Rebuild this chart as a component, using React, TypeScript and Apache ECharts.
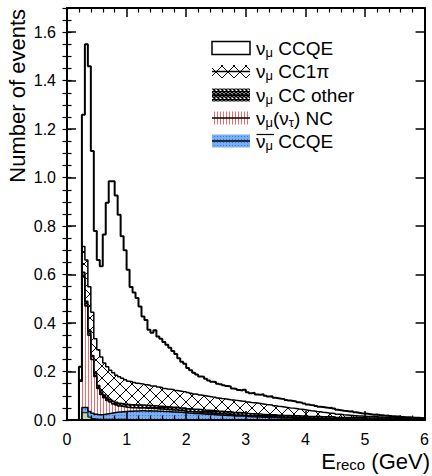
import React, { useEffect, useRef } from "react";
import * as echarts from "echarts";

const FONT = '"Liberation Sans", Arial, Helvetica, sans-serif';

const X_MIN = 0;
const X_MAX = 6;
const BIN_WIDTH = 0.05;
const Y_MAX = 1.7;

// Stacked components, one value per 0.05 GeV bin (0 - 6 GeV), bottom to top
const nuOther = [
  0, 0, 0, 0, 0, 0.03, 0.03, 0.012, 0.006, 0.004,
  0.003, 0.003, 0.003, 0.003, 0.003, 0.003, 0.003, 0.003, 0.003, 0.003,
  0.002, 0.002, 0.002, 0.002, 0.002, 0.002, 0.002, 0.002, 0.002, 0.002,
  0.002, 0.002, 0.002, 0.002, 0.002, 0.002, 0.002, 0.002, 0.002, 0.002,
  0.001, 0.001, 0.001, 0.001, 0.001, 0.001, 0.001, 0.001, 0.001, 0.001,
  0.001, 0.001, 0.001, 0.001, 0.001, 0.001, 0.001, 0.001, 0.001, 0.001,
  0, 0, 0, 0, 0, 0, 0, 0, 0, 0,
  0, 0, 0, 0, 0, 0, 0, 0, 0, 0,
  0, 0, 0, 0, 0, 0, 0, 0, 0, 0,
  0, 0, 0, 0, 0, 0, 0, 0, 0, 0,
  0, 0, 0, 0, 0, 0, 0, 0, 0, 0,
  0, 0, 0, 0, 0, 0, 0, 0, 0, 0,
];

const numubarCCQE = [
  0, 0, 0, 0, 0, 0.022, 0.022, 0.023, 0.022, 0.020,
  0.019, 0.019, 0.021, 0.023, 0.025, 0.027, 0.029, 0.030, 0.031, 0.032,
  0.034, 0.034, 0.035, 0.035, 0.036, 0.036, 0.035, 0.036, 0.035, 0.035,
  0.034, 0.034, 0.033, 0.033, 0.032, 0.031, 0.031, 0.030, 0.029, 0.029,
  0.028, 0.027, 0.026, 0.026, 0.025, 0.024, 0.023, 0.023, 0.022, 0.021,
  0.020, 0.020, 0.019, 0.018, 0.018, 0.017, 0.016, 0.016, 0.015, 0.015,
  0.014, 0.013, 0.013, 0.012, 0.012, 0.011, 0.011, 0.010, 0.010, 0.010,
  0.009, 0.009, 0.008, 0.008, 0.008, 0.007, 0.007, 0.007, 0.006, 0.006,
  0.006, 0.005, 0.005, 0.005, 0.005, 0.004, 0.004, 0.004, 0.004, 0.004,
  0.003, 0.003, 0.003, 0.003, 0.003, 0.003, 0.003, 0.003, 0.003, 0.003,
  0.002, 0.002, 0.002, 0.002, 0.002, 0.002, 0.002, 0.002, 0.002, 0.002,
  0.001, 0.001, 0.001, 0.001, 0.001, 0.001, 0.001, 0.001, 0.001, 0.001,
];

const numuNC = [
  0, 0, 0, 0, 0.16, 0.538, 0.418, 0.315, 0.222, 0.156,
  0.108, 0.083, 0.068, 0.054, 0.046, 0.036, 0.030, 0.025, 0.022, 0.019,
  0.016, 0.015, 0.014, 0.013, 0.012, 0.012, 0.011, 0.011, 0.010, 0.010,
  0.009, 0.009, 0.009, 0.008, 0.008, 0.008, 0.008, 0.007, 0.007, 0.007,
  0.006, 0.006, 0.006, 0.006, 0.006, 0.005, 0.005, 0.005, 0.005, 0.005,
  0.005, 0.005, 0.005, 0.005, 0.005, 0.004, 0.004, 0.004, 0.004, 0.004,
  0.004, 0.004, 0.004, 0.004, 0.004, 0.003, 0.003, 0.003, 0.003, 0.003,
  0.003, 0.003, 0.003, 0.003, 0.003, 0.003, 0.003, 0.003, 0.003, 0.003,
  0.002, 0.002, 0.002, 0.002, 0.002, 0.002, 0.002, 0.002, 0.002, 0.002,
  0.001, 0.001, 0.001, 0.001, 0.001, 0.001, 0.001, 0.001, 0.001, 0.001,
  0.001, 0.001, 0.001, 0.001, 0.001, 0.001, 0.001, 0.001, 0.001, 0.001,
  0, 0, 0, 0, 0, 0, 0, 0, 0, 0,
];

const numuCCother = [
  0, 0, 0, 0, 0, 0.020, 0.020, 0.018, 0.016, 0.014,
  0.012, 0.011, 0.011, 0.011, 0.011, 0.011, 0.011, 0.011, 0.011, 0.011,
  0.012, 0.012, 0.012, 0.012, 0.012, 0.012, 0.012, 0.012, 0.012, 0.012,
  0.012, 0.012, 0.012, 0.012, 0.012, 0.012, 0.012, 0.012, 0.012, 0.012,
  0.011, 0.011, 0.011, 0.011, 0.011, 0.011, 0.011, 0.011, 0.011, 0.011,
  0.010, 0.010, 0.010, 0.010, 0.010, 0.010, 0.010, 0.010, 0.010, 0.010,
  0.009, 0.009, 0.009, 0.009, 0.009, 0.009, 0.009, 0.009, 0.009, 0.009,
  0.008, 0.008, 0.008, 0.008, 0.008, 0.008, 0.008, 0.008, 0.008, 0.008,
  0.007, 0.007, 0.007, 0.007, 0.007, 0.007, 0.007, 0.007, 0.007, 0.007,
  0.006, 0.006, 0.006, 0.006, 0.006, 0.006, 0.006, 0.006, 0.006, 0.006,
  0.005, 0.005, 0.005, 0.005, 0.005, 0.005, 0.005, 0.005, 0.005, 0.005,
  0.004, 0.004, 0.004, 0.004, 0.004, 0.004, 0.004, 0.004, 0.004, 0.004,
];

const numuCC1pi = [
  0, 0, 0, 0, 0.005, 0.106, 0.170, 0.182, 0.179, 0.141,
  0.148, 0.144, 0.132, 0.129, 0.120, 0.118, 0.112, 0.109, 0.105, 0.101,
  0.096, 0.095, 0.092, 0.090, 0.088, 0.086, 0.085, 0.082, 0.081, 0.081,
  0.079, 0.077, 0.074, 0.073, 0.073, 0.072, 0.069, 0.069, 0.068, 0.067,
  0.067, 0.065, 0.063, 0.062, 0.060, 0.060, 0.059, 0.057, 0.056, 0.056,
  0.055, 0.053, 0.053, 0.052, 0.050, 0.051, 0.050, 0.048, 0.047, 0.047,
  0.047, 0.046, 0.045, 0.045, 0.043, 0.043, 0.041, 0.041, 0.040, 0.037,
  0.037, 0.036, 0.035, 0.033, 0.031, 0.031, 0.029, 0.027, 0.027, 0.025,
  0.025, 0.024, 0.023, 0.021, 0.020, 0.019, 0.018, 0.016, 0.015, 0.014,
  0.014, 0.014, 0.012, 0.011, 0.010, 0.009, 0.008, 0.007, 0.006, 0.005,
  0.006, 0.006, 0.005, 0.005, 0.004, 0.004, 0.003, 0.003, 0.002, 0.002,
  0.004, 0.004, 0.003, 0.003, 0.003, 0.002, 0.002, 0.001, 0.001, 0.001,
];

const numuCCQE = [
  0, 0, 0, 0, 0.055, 0.544, 0.890, 0.910, 0.665, 0.445,
  0.370, 0.374, 0.530, 0.676, 0.780, 0.790, 0.741, 0.669, 0.586, 0.534,
  0.460, 0.391, 0.371, 0.351, 0.318, 0.279, 0.268, 0.229, 0.220, 0.230,
  0.209, 0.201, 0.192, 0.182, 0.171, 0.160, 0.150, 0.135, 0.122, 0.115,
  0.102, 0.095, 0.088, 0.082, 0.077, 0.077, 0.071, 0.066, 0.063, 0.063,
  0.059, 0.058, 0.055, 0.054, 0.054, 0.047, 0.047, 0.045, 0.045, 0.048,
  0.041, 0.038, 0.041, 0.035, 0.036, 0.040, 0.036, 0.034, 0.036, 0.033,
  0.033, 0.032, 0.033, 0.031, 0.030, 0.029, 0.029, 0.028, 0.027, 0.026,
  0.024, 0.024, 0.024, 0.023, 0.021, 0.022, 0.021, 0.021, 0.023, 0.020,
  0.018, 0.016, 0.016, 0.016, 0.015, 0.017, 0.014, 0.013, 0.012, 0.012,
  0.012, 0.010, 0.009, 0.010, 0.009, 0.008, 0.007, 0.008, 0.006, 0.005,
  0.005, 0.006, 0.004, 0.003, 0.003, 0.003, 0.002, 0.003, 0.002, 0.001,
];

// Legend labels (rich text: m = main, s = subscript)
const legendLabels = [
  "{m|ν}{s|μ}{m| CCQE}",
  "{m|ν}{s|μ}{m| CC1π}",
  "{m|ν}{s|μ}{m| CC other}",
  "{m|ν}{s|μ}{m|(ν}{s|τ}{m|) NC}",
  "{m|ν}{s|μ}{m| CCQE}",
];
const yAxisTitle = "Number of events";
const xAxisTitle = "{m|E}{s|reco}{m| (GeV)}";

function makePattern(
  w: number,
  h: number,
  draw: (ctx: CanvasRenderingContext2D) => void
) {
  const c = document.createElement("canvas");
  c.width = w;
  c.height = h;
  const ctx = c.getContext("2d") as CanvasRenderingContext2D;
  draw(ctx);
  return { image: c, repeat: "repeat", imageWidth: w, imageHeight: h } as any;
}

export default function App() {
  const ref = useRef<HTMLDivElement>(null);

  useEffect(() => {
    if (!ref.current) return;
    const chart = echarts.init(ref.current, null, { renderer: "svg" });

    const whiteFill = "#ffffff";
    const crossFill = makePattern(12, 12, (ctx) => {
      ctx.fillStyle = "#fff";
      ctx.fillRect(0, 0, 12, 12);
      ctx.strokeStyle = "#000";
      ctx.lineWidth = 1;
      ctx.beginPath();
      ctx.moveTo(-1, -1);
      ctx.lineTo(13, 13);
      ctx.moveTo(13, -1);
      ctx.lineTo(-1, 13);
      ctx.stroke();
    });
    const denseFill = makePattern(4, 4, (ctx) => {
      ctx.fillStyle = "#fff";
      ctx.fillRect(0, 0, 4, 4);
      ctx.strokeStyle = "#000";
      ctx.lineWidth = 1.5;
      ctx.beginPath();
      ctx.moveTo(-1, -1);
      ctx.lineTo(5, 5);
      ctx.moveTo(5, -1);
      ctx.lineTo(-1, 5);
      ctx.stroke();
    });
    const redFill = makePattern(3, 3, (ctx) => {
      ctx.fillStyle = "#fff";
      ctx.fillRect(0, 0, 3, 3);
      ctx.fillStyle = "#f06a6a";
      ctx.fillRect(1, 0, 1, 3);
    });
    const blueFill = makePattern(3, 3, (ctx) => {
      ctx.fillStyle = "#7aaef2";
      ctx.fillRect(0, 0, 3, 3);
      ctx.fillStyle = "#3a76d6";
      ctx.fillRect(1, 1, 1, 1);
    });
    const greenFill = "#b4dcae";

    const layers = [
      { name: "other", values: nuOther, fill: greenFill, width: 1 },
      { name: "numubar CCQE", values: numubarCCQE, fill: blueFill, width: 1.5 },
      { name: "numu NC", values: numuNC, fill: redFill, width: 1.5 },
      { name: "numu CC other", values: numuCCother, fill: denseFill, width: 1.5 },
      { name: "numu CC1pi", values: numuCC1pi, fill: crossFill, width: 1.5 },
      { name: "numu CCQE", values: numuCCQE, fill: whiteFill, width: 2 },
    ];

    const n = numuCCQE.length;
    const edges = numuCCQE.map((_, i) => +(X_MIN + i * BIN_WIDTH).toFixed(4));
    let run = new Array(n).fill(0);
    const cumulative: number[][] = layers.map((L) => {
      run = run.map((v: number, i: number) => v + L.values[i]);
      return run;
    });

    const series: any[] = layers
      .map((L, k) => {
        const data = edges.map((e, i) => [e, cumulative[k][i]]);
        data.push([X_MAX, cumulative[k][n - 1]]);
        return {
          type: "line",
          name: L.name,
          data,
          step: "end",
          symbol: "none",
          showSymbol: false,
          silent: true,
          xAxisIndex: 0,
          yAxisIndex: 0,
          lineStyle: { color: "#000", width: L.width },
          areaStyle: { color: L.fill, opacity: 1 },
        };
      })
      .reverse();

    const axisLine = { show: true, onZero: false, lineStyle: { color: "#000", width: 2 } };
    const majorTick = { show: true, inside: true, length: 9, lineStyle: { color: "#000", width: 1.5 } };
    const minorTickX = { show: true, splitNumber: 5, length: 4.5, lineStyle: { color: "#000", width: 1.2 } };
    const labelStyle = { color: "#000", fontSize: 16, fontFamily: FONT };

    const xAxes = ["bottom", "top"].map((pos, idx) => ({
      type: "value",
      position: pos,
      min: X_MIN,
      max: X_MAX,
      interval: 1,
      z: 10,
      axisLine,
      axisTick: majorTick,
      minorTick: minorTickX,
      splitLine: { show: false },
      minorSplitLine: { show: false },
      axisLabel: idx === 0 ? { ...labelStyle, margin: 11 } : { show: false },
    }));

    const yAxes: any[] = [];
    ["left", "right"].forEach((pos) => {
      yAxes.push({
        type: "value",
        position: pos,
        min: 0,
        max: Y_MAX,
        interval: 0.2,
        z: 10,
        axisLine,
        axisTick: majorTick,
        splitLine: { show: false },
        axisLabel:
          pos === "left"
            ? {
                ...labelStyle,
                margin: 11,
                showMaxLabel: false,
                formatter: (v: number) => (v > 1.65 ? "" : v.toFixed(1)),
              }
            : { show: false },
      });
      yAxes.push({
        type: "value",
        position: pos,
        min: 0,
        max: Y_MAX,
        interval: 0.05,
        z: 10,
        axisLine: { show: false },
        axisTick: { show: true, inside: true, length: 4.5, lineStyle: { color: "#000", width: 1.2 } },
        splitLine: { show: false },
        axisLabel: { show: false },
      });
    });

    // Legend drawn as graphic elements
    const fills = [whiteFill, crossFill, denseFill, redFill, blueFill];
    const rowY = [48, 71.5, 95, 118, 141];
    const legendEls: any[] = [];
    legendLabels.forEach((lab, r) => {
      const cy = rowY[r];
      legendEls.push({
        type: "rect",
        shape: { x: 212, y: cy - 6.5, width: 38, height: 13 },
        style: {
          fill: fills[r],
          stroke: r === 0 ? "#000" : null,
          lineWidth: r === 0 ? 1.5 : 0,
        },
        z: 20,
      });
      if (r > 0) {
        legendEls.push({
          type: "line",
          shape: { x1: 212, y1: cy, x2: 250, y2: cy },
          style: { stroke: "#000", lineWidth: 1.5 },
          z: 21,
        });
      }
      legendEls.push({
        type: "text",
        x: 256,
        y: cy,
        z: 21,
        style: {
          text: lab,
          align: "left",
          verticalAlign: "middle",
          fill: "#000",
          fontSize: 19,
          fontFamily: FONT,
          rich: {
            m: { fontSize: 19, fontFamily: FONT, lineHeight: 21, verticalAlign: "middle", fill: "#000" },
            s: { fontSize: 13, fontFamily: FONT, lineHeight: 12, verticalAlign: "bottom", fill: "#000" },
          },
        },
      });
    });
    // overline for anti-neutrino (row 5)
    legendEls.push({
      type: "line",
      shape: { x1: 256.5, y1: 134.5, x2: 274, y2: 134.5 },
      style: { stroke: "#000", lineWidth: 1.2 },
      z: 21,
    });

    const titles: any[] = [
      {
        type: "text",
        x: 17,
        y: 9,
        rotation: Math.PI / 2,
        z: 21,
        style: {
          text: yAxisTitle,
          align: "right",
          verticalAlign: "middle",
          fill: "#000",
          fontSize: 22,
          fontFamily: FONT,
        },
      },
      {
        type: "text",
        x: 430,
        y: 461,
        z: 21,
        style: {
          text: xAxisTitle,
          align: "right",
          verticalAlign: "middle",
          fill: "#000",
          fontSize: 22,
          fontFamily: FONT,
          rich: {
            m: { fontSize: 22, fontFamily: FONT, lineHeight: 22, verticalAlign: "middle", fill: "#000" },
            s: { fontSize: 15, fontFamily: FONT, lineHeight: 14, verticalAlign: "bottom", fill: "#000" },
          },
        },
      },
    ];

    chart.setOption({
      animation: false,
      backgroundColor: "#ffffff",
      grid: { left: 67, right: 3, top: 8, bottom: 56, containLabel: false },
      xAxis: xAxes,
      yAxis: yAxes,
      series,
      graphic: [...legendEls, ...titles],
    });

    return () => chart.dispose();
  }, []);

  return (
    <div
      ref={ref}
      style={{ position: "fixed", left: 0, top: 0, width: 432, height: 476 }}
    />
  );
}
